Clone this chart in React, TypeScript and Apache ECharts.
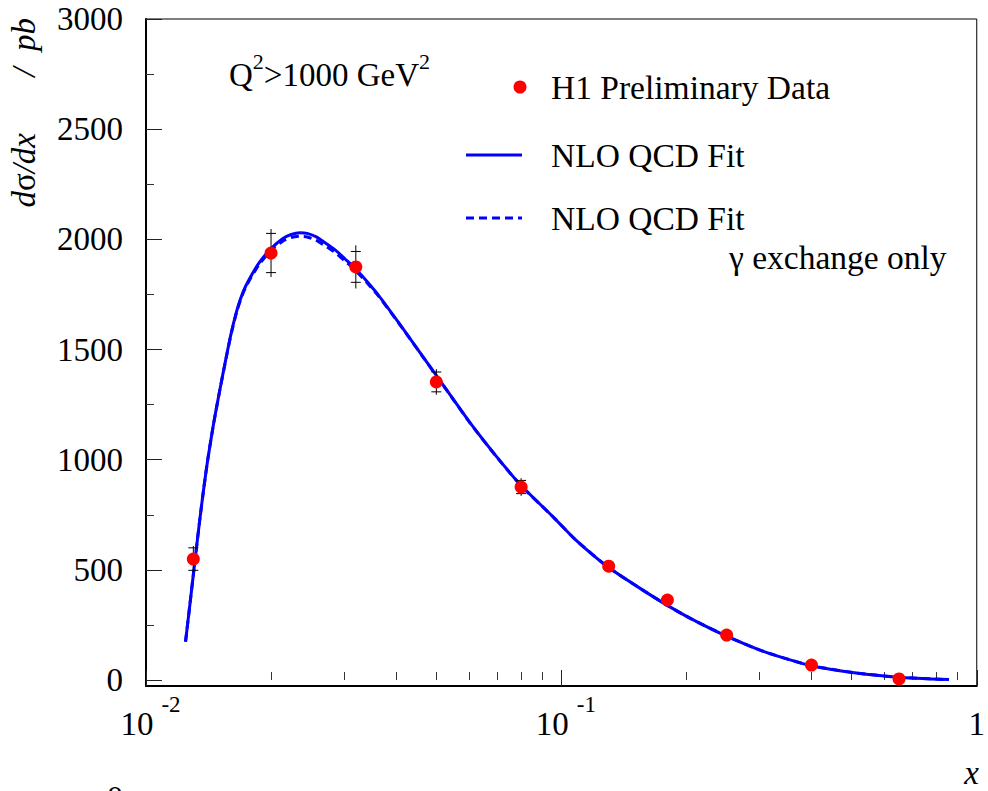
import React, { useEffect, useRef } from "react";
import * as echarts from "echarts";

// H1 preliminary data points
const dataX = [0.013, 0.02, 0.032, 0.05, 0.08, 0.13, 0.18, 0.25, 0.4, 0.65];
const dataY = [549, 1938, 1875, 1353, 876, 517, 363, 204, 68, 5];
const errStat = [51, 89, 70, 45, 30, 15, 12, 9, 5, 2];
const errTot = [59, 109, 98, 58, 40, 20, 16, 12, 7, 3];

// NLO QCD fit curve
const fitX = [
  0.01245, 0.01275, 0.0131, 0.01347, 0.01377, 0.01408, 0.01455, 0.01504, 0.01555,
  0.01606, 0.01661, 0.01716, 0.01774, 0.01875, 0.02, 0.02132, 0.02237, 0.02347,
  0.02443, 0.02563, 0.02698, 0.02862, 0.03012, 0.03184, 0.03401, 0.03634, 0.04058,
  0.04613, 0.05257, 0.06025, 0.06927, 0.07979, 0.09627, 0.1084, 0.1292, 0.1524,
  0.1795, 0.2044, 0.2493, 0.3064, 0.3977, 0.5127, 0.6473, 0.8574,
];
const fitY = [
  174, 340, 532, 726, 868, 1000, 1165, 1312, 1452,
  1580, 1688, 1765, 1820, 1895, 1958, 2003, 2022, 2030,
  2027, 2012, 1985, 1950, 1912, 1870, 1810, 1745, 1622,
  1475, 1325, 1168, 1022, 885, 734, 635, 514, 424,
  340, 280, 200, 130, 66, 32, 13, 2,
];
// NLO QCD fit, gamma exchange only
const gammaY = [
  174, 340, 532, 726, 868, 1000, 1165, 1311, 1450,
  1577, 1684, 1760, 1814, 1888, 1950, 1992, 2008, 2014,
  2011, 1997, 1971, 1938, 1902, 1862, 1804, 1741, 1620,
  1474, 1324, 1167, 1021, 884, 734, 635, 514, 424,
  340, 280, 200, 130, 66, 32, 13, 2,
];

const xMajorTicks = [0.01, 0.1, 1];
const xMinorTicks = [0.02, 0.03, 0.04, 0.05, 0.06, 0.07, 0.08, 0.09, 0.2, 0.3, 0.4, 0.5, 0.6, 0.7, 0.8, 0.9];
const yMajorTicks = [0, 500, 1000, 1500, 2000, 2500, 3000];
const yMinorTicks = [250, 750, 1250, 1750, 2250, 2750];

const FAMILY = '"Liberation Serif", "DejaVu Serif", serif';
const BLUE = "#0000ff";
const RED = "#ff0000";

const font = (size: number, style = "normal") => `${style} normal ${size}px ${FAMILY}`;

const txt = (text: string, size: number, style: string, align: string, vAlign: string) => ({
  text,
  font: font(size, style),
  fontSize: size,
  fontFamily: FAMILY,
  fontStyle: style,
  fontWeight: "normal",
  fill: "#000",
  align,
  verticalAlign: vAlign,
  textAlign: align,
  textVerticalAlign: vAlign,
});

const richTok = (size: number, style: string, extra: any = {}) => ({
  font: font(size, style),
  fontSize: size,
  fontFamily: FAMILY,
  fontStyle: style,
  fontWeight: "normal",
  fill: "#000",
  color: "#000",
  ...extra,
});

export default function App() {
  const ref = useRef<HTMLDivElement>(null);

  useEffect(() => {
    if (!ref.current) return;
    const chart = echarts.init(ref.current, null, { renderer: "svg" });

    const fitData = fitX.map((x, i) => [x, fitY[i]]);
    const gammaData = fitX.map((x, i) => [x, gammaY[i]]);
    const pts = dataX.map((x, i) => [x, dataY[i]]);
    const errData = dataX.map((x, i) => [x, dataY[i], errStat[i], errTot[i]]);

    const option: any = {
      animation: false,
      backgroundColor: "#ffffff",
      textStyle: { fontFamily: FAMILY },
      grid: {
        left: 146,
        right: 8,
        top: 19,
        bottom: 105,
        show: true,
        borderColor: "#000",
        borderWidth: 1,
        backgroundColor: "transparent",
      },
      xAxis: [
        {
          type: "log",
          logBase: 10,
          min: 0.01,
          max: 1,
          position: "bottom",
          axisLine: { show: true, onZero: false, lineStyle: { color: "#000", width: 2 } },
          axisTick: {
            show: true,
            inside: true,
            length: 16,
            customValues: xMajorTicks,
            lineStyle: { color: "#222", width: 1 },
          },
          axisLabel: {
            show: true,
            customValues: xMajorTicks,
            margin: 7,
            showMinLabel: true,
            showMaxLabel: true,
            color: "#000",
            fontFamily: FAMILY,
            formatter: (v: number) => {
              const e = Math.round(Math.log10(v));
              if (e === 0) return "{o|1}";
              return "{b|10}{s|" + e + "}";
            },
            rich: {
              b: { fontSize: 33, fontFamily: FAMILY, color: "#000", lineHeight: 62, padding: [0, 0, 0, 9] },
              o: { fontSize: 33, fontFamily: FAMILY, color: "#000", lineHeight: 62 },
              s: {
                fontSize: 23,
                fontFamily: FAMILY,
                color: "#000",
                lineHeight: 22,
                verticalAlign: "top",
                padding: [0, 0, 0, 8],
              },
            },
          },
          splitLine: { show: false },
          minorTick: { show: false },
        },
        {
          type: "log",
          logBase: 10,
          min: 0.01,
          max: 1,
          position: "bottom",
          axisLine: { show: false },
          axisTick: {
            show: true,
            inside: true,
            length: 8,
            customValues: xMinorTicks,
            lineStyle: { color: "#333", width: 1 },
          },
          axisLabel: { show: false },
          splitLine: { show: false },
        },
      ],
      yAxis: [
        {
          type: "value",
          min: -27,
          max: 3000,
          position: "left",
          axisLine: { show: true, onZero: false, lineStyle: { color: "#000", width: 2 } },
          axisTick: {
            show: true,
            inside: true,
            length: 16,
            customValues: yMajorTicks,
            lineStyle: { color: "#222", width: 1 },
          },
          axisLabel: {
            show: true,
            customValues: yMajorTicks,
            margin: 23,
            fontSize: 33,
            fontFamily: FAMILY,
            color: "#000",
            formatter: (v: number) => String(Math.round(v)),
          },
          splitLine: { show: false },
        },
        {
          type: "value",
          min: -27,
          max: 3000,
          position: "left",
          axisLine: { show: false },
          axisTick: {
            show: true,
            inside: true,
            length: 8,
            customValues: yMinorTicks,
            lineStyle: { color: "#333", width: 1 },
          },
          axisLabel: { show: false },
          splitLine: { show: false },
        },
      ],
      series: [
        {
          name: "NLO QCD Fit",
          type: "line",
          data: fitData,
          showSymbol: false,
          symbol: "none",
          smooth: 0.2,
          lineStyle: { color: BLUE, width: 3 },
          z: 2,
        },
        {
          name: "NLO QCD Fit (γ exchange only)",
          type: "line",
          data: gammaData,
          showSymbol: false,
          symbol: "none",
          smooth: 0.2,
          lineStyle: { color: BLUE, width: 3, type: [8, 5] },
          z: 2,
        },
        {
          name: "fit dotted",
          type: "line",
          data: fitData,
          showSymbol: false,
          symbol: "none",
          smooth: 0.2,
          lineStyle: { color: RED, width: 1, type: [1, 12], opacity: 0.6 },
          z: 3,
        },
        {
          name: "errors",
          type: "custom",
          data: errData,
          z: 4,
          renderItem: (params: any, api: any) => {
            const x = api.value(0);
            const y = api.value(1);
            const st = api.value(2);
            const tot = api.value(3);
            const top = api.coord([x, y + tot]);
            const bot = api.coord([x, y - tot]);
            const sTop = api.coord([x, y + st]);
            const sBot = api.coord([x, y - st]);
            const style = { stroke: "#000", lineWidth: 1 };
            const hw = 5;
            return {
              type: "group",
              children: [
                { type: "line", shape: { x1: top[0], y1: top[1], x2: bot[0], y2: bot[1] }, style },
                { type: "line", shape: { x1: sTop[0] - hw, y1: sTop[1], x2: sTop[0] + hw, y2: sTop[1] }, style },
                { type: "line", shape: { x1: sBot[0] - hw, y1: sBot[1], x2: sBot[0] + hw, y2: sBot[1] }, style },
              ],
            };
          },
        },
        {
          name: "H1 Preliminary Data",
          type: "scatter",
          data: pts,
          symbol: "circle",
          symbolSize: 13,
          itemStyle: { color: RED, opacity: 1 },
          z: 5,
        },
      ],
      graphic: [
        // Q2 cut
        {
          type: "text",
          x: 229,
          y: 50,
          style: {
            text: "{n|Q}{s|2}{n|>1000 GeV}{s|2}",
            font: font(33),
            fontFamily: FAMILY,
            fontSize: 33,
            align: "left",
            verticalAlign: "top",
            textAlign: "left",
            textVerticalAlign: "top",
            rich: {
              n: richTok(33, "normal", { lineHeight: 50 }),
              s: richTok(22, "normal", { lineHeight: 22, verticalAlign: "top", textVerticalAlign: "top" }),
            },
          },
        },
        // Legend
        { type: "circle", shape: { cx: 520, cy: 87, r: 6.5 }, style: { fill: RED } },
        { type: "text", x: 551, y: 87, style: txt("H1 Preliminary Data", 33.5, "normal", "left", "middle") },
        { type: "line", shape: { x1: 466, y1: 155, x2: 522, y2: 155 }, style: { stroke: BLUE, lineWidth: 3 } },
        { type: "text", x: 551, y: 155, style: txt("NLO QCD Fit", 33.5, "normal", "left", "middle") },
        {
          type: "line",
          shape: { x1: 466, y1: 218, x2: 522, y2: 218 },
          style: { stroke: BLUE, lineWidth: 3, lineDash: [8, 5] },
        },
        { type: "text", x: 551, y: 218, style: txt("NLO QCD Fit", 33.5, "normal", "left", "middle") },
        { type: "text", x: 729, y: 257, style: txt("γ exchange only", 33.5, "normal", "left", "middle") },
        // Y axis title
        {
          type: "text",
          x: 24,
          y: 18,
          rotation: Math.PI / 2,
          style: txt("/  pb", 33, "italic", "right", "middle"),
        },
        {
          type: "text",
          x: 24,
          y: 133,
          rotation: Math.PI / 2,
          style: {
            text: "{i|d}{n|σ}{i|/dx}",
            font: font(33, "italic"),
            fontFamily: FAMILY,
            fontSize: 33,
            align: "right",
            verticalAlign: "middle",
            textAlign: "right",
            textVerticalAlign: "middle",
            rich: {
              i: richTok(33, "italic"),
              n: richTok(33, "normal"),
            },
          },
        },
        // X axis title
        { type: "text", x: 979, y: 773, style: txt("x", 33, "italic", "right", "middle") },
        // clipped text at the bottom edge
        { type: "text", x: 115, y: 798, style: txt("0", 33, "normal", "center", "middle") },
      ],
    };

    chart.setOption(option);
    return () => {
      chart.dispose();
    };
  }, []);

  return (
    <div
      ref={ref}
      style={{ position: "fixed", left: 0, top: 0, width: 988, height: 791, background: "#fff" }}
    />
  );
}
